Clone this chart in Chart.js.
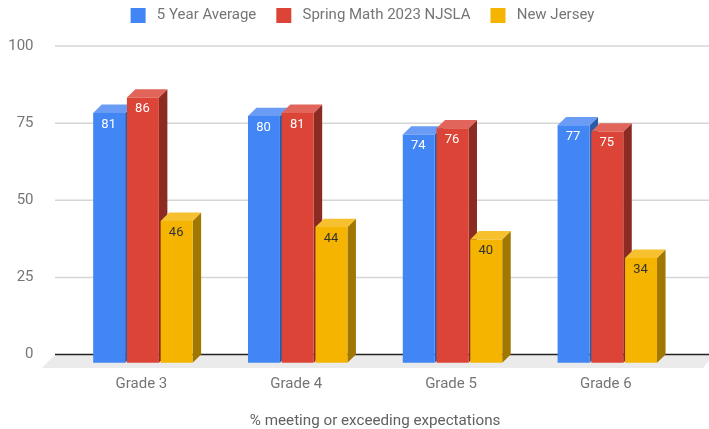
<!DOCTYPE html>
<html>
<head>
<meta charset="utf-8">
<script src="https://cdn.jsdelivr.net/npm/chart.js@4"></script>
<style>
  html, body { margin: 0; padding: 0; background: #fff; }
  #wrap { width: 709px; height: 429px; }
</style>
</head>
<body>
<div id="wrap"><canvas id="myChart" width="709" height="429"></canvas></div>
<script>
let grades = ["Grade 3", "Grade 4", "Grade 5", "Grade 6"];
let fiveYear = [81, 80, 74, 77];
let spring = [86, 81, 76, 75];
let newJersey = [46, 44, 40, 34];
let yTicks = [0, 25, 50, 75, 100];

// front, top and side shades of each series
let shades = [
    { front: "#4285f4", top: "#6a9cf6", side: "#2b5ca8", text: "#ffffff" },
    { front: "#db4437", top: "#e1655a", side: "#8c2b22", text: "#ffffff" },
    { front: "#f4b400", top: "#f6c02e", side: "#a07700", text: "#333333" },
];
let depthX = 8.5;
let depthY = 8.3;

let fakeThreeD = {
    id: "fakeThreeD",
    beforeInit: function (chart) {
        // legend needs room down to the top gridline
        let fit = chart.legend.fit;
        chart.legend.fit = function () {
            fit.call(this);
            this.height = 58;
        };
    },
    afterLayout: function (chart) {
        // the legend is centred a bit right of the canvas middle
        chart.legend.left += 20.15;
        chart.legend.right += 20.15;
    },
    beforeDatasetsDraw: function (chart) {
        let ctx = chart.ctx;
        let y = chart.scales.y;
        let zero = y.getPixelForValue(0);

        // floor
        ctx.fillStyle = "#ebebeb";
        ctx.beginPath();
        ctx.moveTo(55, zero);
        ctx.lineTo(709, zero);
        ctx.lineTo(709, zero + 6);
        ctx.lineTo(703, zero + 13.5);
        ctx.lineTo(42, zero + 13.5);
        ctx.closePath();
        ctx.fill();

        // back wall lines
        yTicks.forEach(function (t) {
            let py = y.getPixelForValue(t);
            ctx.strokeStyle = t === 0 ? "#222222" : "#d6d6d6";
            ctx.lineWidth = 1.5;
            ctx.beginPath();
            ctx.moveTo(55, py);
            ctx.lineTo(709, py);
            ctx.stroke();
        });

        // bars, first series first so the next one sits on top of its side
        chart.data.datasets.forEach(function (ds, i) {
            let meta = chart.getDatasetMeta(i);
            let c = shades[i];
            meta.data.forEach(function (bar, j) {
                let l = bar.x - bar.width / 2;
                let r = bar.x + bar.width / 2;
                let top = bar.y + depthY;
                let base = bar.base + depthY;

                ctx.fillStyle = c.side;
                ctx.beginPath();
                ctx.moveTo(r, top);
                ctx.lineTo(r + depthX, top - depthY);
                ctx.lineTo(r + depthX, base - depthY);
                ctx.lineTo(r, base);
                ctx.closePath();
                ctx.fill();

                ctx.fillStyle = c.top;
                ctx.beginPath();
                ctx.moveTo(l, top);
                ctx.lineTo(l + depthX, top - depthY);
                ctx.lineTo(r + depthX, top - depthY);
                ctx.lineTo(r, top);
                ctx.closePath();
                ctx.fill();

                ctx.save();
                ctx.translate(0, depthY);
                bar.draw(ctx);
                ctx.restore();

                ctx.fillStyle = c.text;
                ctx.font = "13px Roboto";
                ctx.textAlign = "center";
                ctx.textBaseline = "middle";
                ctx.fillText(ds.data[j], bar.x - 0.5, top + 11.5);
            });
        });
        return false;
    },
};

let ctx = document.getElementById("myChart").getContext("2d");
let barChart = new Chart(ctx, {
    type: "bar",
    data: {
        labels: grades,
        datasets: [
            { label: "5 Year Average", data: fiveYear, backgroundColor: shades[0].front },
            { label: "Spring Math 2023 NJSLA", data: spring, backgroundColor: shades[1].front },
            { label: "New Jersey", data: newJersey, backgroundColor: shades[2].front },
        ],
    },
    options: {
        responsive: false,
        animation: false,
        categoryPercentage: 0.654,
        barPercentage: 0.947,
        inflateAmount: 0,
        layout: { padding: { left: 0, right: 24.3, top: -12, bottom: 0 } },
        plugins: {
            tooltip: { enabled: false },
            legend: {
                position: "top",
                labels: {
                    boxWidth: 15,
                    boxHeight: 15,
                    padding: 20,
                    color: "#757575",
                    font: { family: "Roboto", size: 15 },
                    generateLabels: function (chart) {
                        return Chart.defaults.plugins.legend.labels.generateLabels(chart).map(function (item) {
                            item.text = " " + item.text;
                            item.lineWidth = 0;
                            return item;
                        });
                    },
                },
            },
        },
        scales: {
            x: {
                grid: { display: false },
                border: { display: false },
                ticks: { color: "#757575", font: { family: "Roboto", size: 15 }, padding: 13, labelOffset: -1.5 },
                title: {
                    display: true,
                    text: "% meeting or exceeding expectations",
                    color: "#616161",
                    font: { family: "Roboto", size: 15.2 },
                    padding: { top: 0, bottom: -1.5 },
                },
                afterFit: function (scale) {
                    scale.height = 74.5;
                },
            },
            y: {
                min: 0,
                max: 100,
                grid: { display: false },
                border: { display: false },
                ticks: { stepSize: 25, color: "#757575", font: { family: "Roboto", size: 15 }, padding: 24 },
                afterFit: function (scale) {
                    scale.width = 65.5;
                },
            },
        },
    },
    plugins: [fakeThreeD],
});
</script>
</body>
</html>
